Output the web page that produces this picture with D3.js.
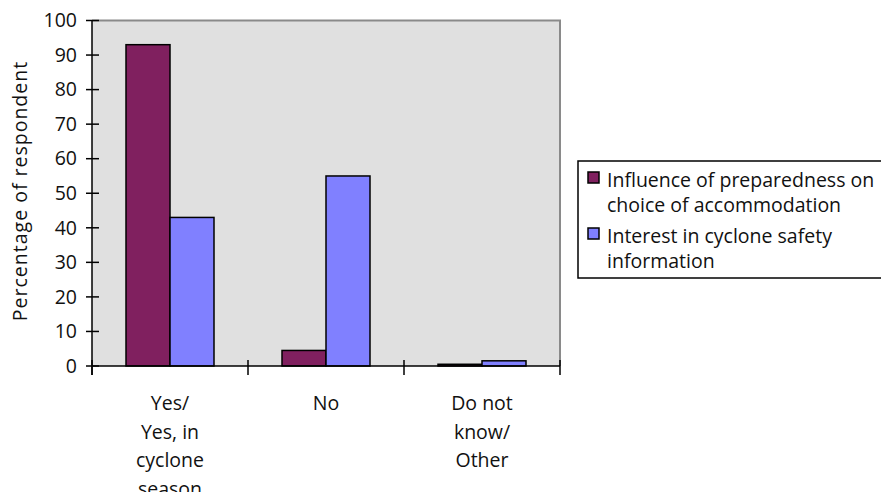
<!DOCTYPE html>
<html><head><meta charset="utf-8">
<script src="https://cdn.jsdelivr.net/npm/d3@7"></script>
<style>
html,body{margin:0;padding:0;background:#fff;}
svg text{font-family:"Open Sans",sans-serif;fill:#111;}
</style></head>
<body><svg id="c" width="881" height="492"></svg>
<script>
const categories = [["Yes/","Yes, in","cyclone","season"],["No"],["Do not","know/","Other"]];
const categoryKeys = ["Yes","No","DoNotKnow"];
const seriesNames = ["Influence of preparedness on choice of accommodation","Interest in cyclone safety information"];
const legendLines = [["Influence of preparedness on","choice of accommodation"],["Interest in cyclone safety","information"]];
const influence = [93, 4.5, 0.5];
const interest = [43, 55, 1.5];
const yTicks = [0,10,20,30,40,50,60,70,80,90,100];
const colors = ["#80205F","#8080FF"];

const FS = 19.5;
const svg = d3.select("#c");
const L = 92, R = 560, T = 20.5, B = 366;
const x0 = d3.scaleBand().domain(categoryKeys).range([L,R]).padding(0);
const gw = x0.bandwidth();
const barW = gw*44/156;
const x1 = d3.scaleBand().domain([0,1]).range([(gw-2*barW)/2,(gw+2*barW)/2]).padding(0);
const y = d3.scaleLinear().domain([0,100]).range([B,T]);

// plot area
svg.append("rect").attr("x",L).attr("y",T).attr("width",R-L).attr("height",B-T)
  .attr("fill","#E0E0E0");
svg.append("path").attr("d",`M${L},${T}H${R}V${B}`).attr("fill","none").attr("stroke","#8a8a8a").attr("stroke-width",2);

// bars
const data = categoryKeys.map((k,i)=>({k, v:[influence[i], interest[i]]}));
const g = svg.append("g");
data.forEach(d=>{
  d.v.forEach((v,j)=>{
    g.append("rect").attr("x",x0(d.k)+x1(j)).attr("y",y(v))
      .attr("width",x1.bandwidth()).attr("height",B-y(v))
      .attr("fill",colors[j]).attr("stroke","#000").attr("stroke-width",1.5);
  });
});

// axes
const ya = d3.axisLeft(y).tickValues(yTicks).tickSize(0).tickPadding(15);
const yg = svg.append("g").attr("transform",`translate(${L},0)`).call(ya);
yg.select(".domain").remove();
yg.selectAll("text").attr("font-size",FS).style("font-family","'Open Sans',sans-serif").attr("fill","#111");
yTicks.forEach(t=>{
  svg.append("line").attr("x1",L-6).attr("x2",L+7).attr("y1",y(t)).attr("y2",y(t)).attr("stroke","#000").attr("stroke-width",1.5);
});
svg.append("line").attr("x1",L).attr("x2",L).attr("y1",T).attr("y2",B+9).attr("stroke","#000").attr("stroke-width",1.5);
svg.append("line").attr("x1",L).attr("x2",R).attr("y1",B).attr("y2",B).attr("stroke","#000").attr("stroke-width",1.5);
const xTickPos = categoryKeys.map(k=>x0(k)).concat([R]);
xTickPos.forEach(p=>{
  svg.append("line").attr("x1",p).attr("x2",p).attr("y1",B-6).attr("y2",B+9).attr("stroke","#000").attr("stroke-width",1.5);
});

// x labels
categoryKeys.forEach((k,i)=>{
  const t = svg.append("text").attr("text-anchor","middle").attr("font-size",FS)
    .attr("x",x0(k)+gw/2).attr("y",410);
  categories[i].forEach((line,j)=>{
    t.append("tspan").attr("x",x0(k)+gw/2).attr("y",410+j*28.5).text(line);
  });
});

// y title
svg.append("text").attr("transform","translate(27,191) rotate(-90)").attr("text-anchor","middle")
  .attr("font-size",FS).attr("letter-spacing",1).text("Percentage of respondent");

// legend
const lg = svg.append("g");
lg.append("rect").attr("x",578).attr("y",161).attr("width",320).attr("height",117)
  .attr("fill","#fff").attr("stroke","#000").attr("stroke-width",1.5);
legendLines.forEach((lines,i)=>{
  const by = 187 + i*56;
  lg.append("rect").attr("x",588).attr("y",by-15).attr("width",11).attr("height",11)
    .attr("fill",colors[i]).attr("stroke","#000").attr("stroke-width",1.5);
  lines.forEach((ln,j)=>{
    lg.append("text").attr("x",607).attr("y",by+j*25).attr("font-size",FS).text(ln);
  });
});
</script></body></html>
